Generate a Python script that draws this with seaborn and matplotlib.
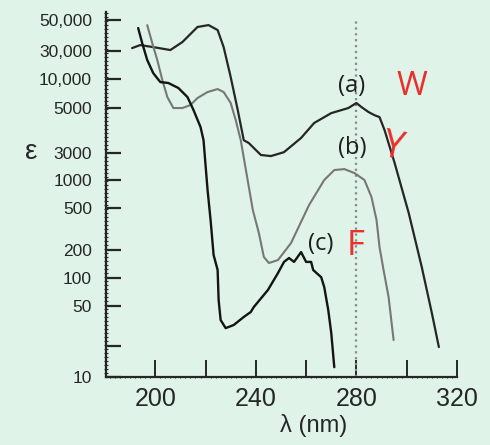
import numpy as np
import pandas as pd
import seaborn as sns
import matplotlib.pyplot as plt
from matplotlib.ticker import FixedLocator, FixedFormatter, NullFormatter

# (a) tryptophan
trp_nm = [190.8, 194.0, 199.2, 206.0, 210.8, 216.8, 221.2, 224.8, 227.2, 230.0,
          232.8, 235.2, 237.2, 242.0, 246.0, 251.2, 258.0, 263.2, 270.0, 276.8,
          280.0, 282.0, 284.8, 287.2, 289.2, 291.2, 295.2, 300.8, 306.0, 310.0, 312.8]
trp_eps = [31500, 33100, 32000, 30500, 34800, 44600, 46000, 42400, 32000, 10800,
           4890, 3470, 3360, 2770, 2650, 3030, 3560, 4220, 4720, 5000,
           5640, 5120, 4780, 4610, 4510, 3890, 2000, 449, 131, 42.7, 19.7]

# (b) tyrosine
tyr_nm = [196.8, 198.8, 200.8, 202.8, 204.8, 207.2, 210.8, 214.0, 216.8, 220.8,
          224.8, 227.2, 230.0, 232.0, 234.0, 238.8, 241.2, 243.2, 245.2, 248.8,
          254.0, 261.2, 267.2, 271.2, 275.2, 279.2, 283.2, 286.0, 288.0, 289.2,
          290.8, 292.8, 294.8]
tyr_eps = [46000, 34200, 21100, 9770, 6500, 5000, 5000, 5370, 6350, 7330,
           7870, 7330, 5640, 4360, 3470, 479, 290, 168, 145, 156,
           233, 540, 1000, 1500, 1560, 1330, 1000, 656, 385, 213,
           122, 62.5, 23.1]

# (c) phenylalanine
phe_nm = [193.2, 194.8, 196.8, 199.2, 202.0, 205.2, 209.2, 212.8, 215.2, 218.0,
          219.2, 220.8, 222.0, 223.2, 224.8, 225.2, 226.0, 228.0, 231.2, 235.2,
          238.0, 239.2, 244.8, 248.8, 251.2, 253.2, 255.2, 258.0, 260.0, 262.0,
          262.8, 266.0, 267.2, 268.8, 270.0, 271.2]
phe_eps = [43800, 34200, 21100, 12600, 9300, 9100, 8070, 6500, 4890, 4030,
           3470, 782, 385, 177, 122, 58, 36.4, 30.3, 32.5, 39,
           43.7, 48.9, 74.3, 113, 149, 164, 149, 190, 149, 149,
           122, 102, 80, 45.7, 27.1, 12.5]

ytick_vals = [10, 20, 50, 100, 200, 500, 1000, 3000, 5000, 10000, 30000, 50000]
ytick_text = ["10", "", "50", "100", "200", "500", "1000", "3000", "5000",
              "10,000", "30,000", "50,000"]
xtick_vals = [200, 220, 240, 260, 280, 300, 320]
xtick_text = ["200", "", "240", "", "280", "", "320"]

# the printed ε axis is not a true log axis; height (px) of each printed value
knot_vals = [1, 10, 50, 100, 200, 500, 1000, 3000, 5000, 10000, 30000, 50000, 100000]
knot_px = [-101.6, 0, 71, 99, 127, 169, 197, 224, 269, 298, 326, 357, 399]
knot_log = np.log10(knot_vals)


def fwd(v):
    v = np.clip(np.asarray(v, dtype=float), 1e-6, None)
    return np.interp(np.log10(v), knot_log, knot_px)


def inv(p):
    return 10 ** np.interp(np.asarray(p, dtype=float), knot_px, knot_log)


sns.set_style("ticks")
plt.rcParams['font.family'] = ['Liberation Sans', 'DejaVu Sans']
bg = "#dff3e8"

fig = plt.figure(figsize=(4.9, 4.45), dpi=100, facecolor=bg)
ax = fig.add_axes([0.2163, 0.1528, 0.7163, 0.820])
ax.set_facecolor(bg)

ax.axvline(280, ymax=0.978, color="#8a8a8a", ls=":", lw=1.6, zorder=1)

df_w = pd.DataFrame({"nm": trp_nm, "eps": trp_eps})
df_y = pd.DataFrame({"nm": tyr_nm, "eps": tyr_eps})
df_f = pd.DataFrame({"nm": phe_nm, "eps": phe_eps})
sns.lineplot(data=df_w, x="nm", y="eps", ax=ax, color="#262626", lw=1.6, sort=False, estimator=None)
sns.lineplot(data=df_y, x="nm", y="eps", ax=ax, color="#777777", lw=1.5, sort=False, estimator=None)
sns.lineplot(data=df_f, x="nm", y="eps", ax=ax, color="#141414", lw=1.7, sort=False, estimator=None)

ax.set_yscale("function", functions=(fwd, inv))
ax.set_ylim(10, 57000)
ax.set_xlim(180.4, 320)

ax.yaxis.set_major_locator(FixedLocator(ytick_vals))
ax.yaxis.set_major_formatter(FixedFormatter(ytick_text))
ax.yaxis.set_minor_locator(FixedLocator(inv(np.arange(0, 366, 4))))
ax.yaxis.set_minor_formatter(NullFormatter())
ax.xaxis.set_major_locator(FixedLocator(xtick_vals))
ax.xaxis.set_major_formatter(FixedFormatter(xtick_text))
ax.xaxis.set_minor_locator(FixedLocator(np.arange(182, 320, 2)))

ax.tick_params(axis="y", which="major", direction="in", length=11, width=1.6,
               pad=10, labelsize=12.5, colors="#262626")
ax.tick_params(axis="y", which="minor", direction="inout", length=3, width=0.8, colors="#262626")
ax.tick_params(axis="x", which="major", direction="in", length=12, width=1.4,
               pad=7, labelsize=18, colors="#262626")
ax.tick_params(axis="x", which="minor", direction="inout", length=2, width=0.7, colors="#262626")
for t in ax.yaxis.get_major_ticks():
    if t.get_loc() == 3000:
        t.tick1line.set_visible(False)

for s in ["top", "right"]:
    ax.spines[s].set_visible(False)
for s in ["left", "bottom"]:
    ax.spines[s].set_linewidth(1.6)
    ax.spines[s].set_color("#262626")

ax.set_xlabel("")
ax.set_ylabel("")
fig.text(0.063, 0.658, "ε", fontsize=20, color="#262626", ha="center", va="center")
fig.text(0.640, 0.043, "λ (nm)", fontsize=17, color="#262626", ha="center", va="center")

lab = dict(transform=ax.transAxes, ha="center", va="center", fontsize=17,
           color="#1e1e1e", family=["Open Sans", "DejaVu Sans"])
ax.text(0.701, 0.797, "(a)", **lab)
ax.text(0.701, 0.627, "(b)", **lab)
ax.text(0.6125, 0.364, "(c)", **lab)

red = dict(transform=ax.transAxes, ha="center", va="center", color="#e8302c",
           family=["Open Sans", "DejaVu Sans"])
ax.text(0.872, 0.795, "W", fontsize=24, **red)
ax.text(0.815, 0.630, "Y", fontsize=27, rotation=-12, **red)
ax.text(0.712, 0.359, "F", fontsize=25, **red)

fig.savefig("out.png", dpi=100, facecolor=bg)
